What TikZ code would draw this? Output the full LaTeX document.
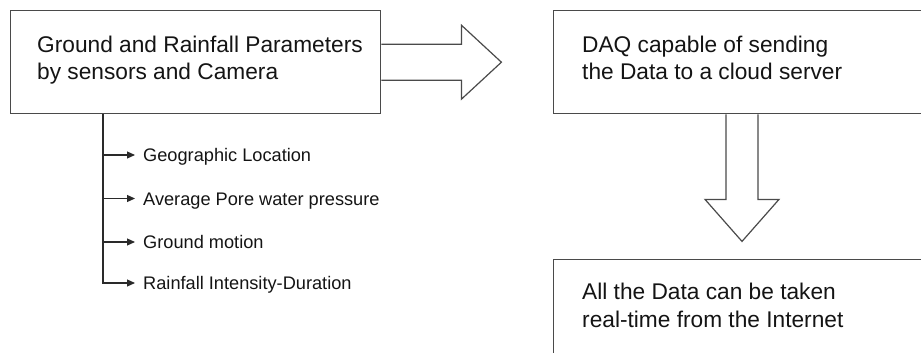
\documentclass[tikz,border=0pt]{standalone}
\usepackage{fontspec}
\setmainfont{Liberation Sans}
\usetikzlibrary{arrows.meta}
\definecolor{linegray}{HTML}{4A4A4A}
\definecolor{feedgray}{HTML}{2A2A2A}
\definecolor{inkblack}{HTML}{141414}
\begin{document}
\begin{tikzpicture}[x=1pt,y=-1pt,
  box/.style={draw=linegray, line width=1.4pt, rectangle, inner sep=0pt, anchor=north west},
  boxtext/.style={anchor=base west, inner sep=0pt, align=left, text=inkblack,
    font=\fontsize{22.7}{27.5}\selectfont},
  item/.style={anchor=west, inner xsep=8pt, inner ysep=0pt, text height=13pt, text depth=0pt,
    text=inkblack, font=\fontsize{18.2}{22}\selectfont},
  feed/.style={draw=feedgray, line width=1.1pt, -{Triangle[length=8pt,width=7pt]}},
  hollow/.style={draw=linegray, line width=1.2pt, line join=miter}
]
\useasboundingbox (0,0) rectangle (921,353);
\clip (0,0) rectangle (921,353);

% process boxes
\node[box, minimum width=370pt, minimum height=103pt] (box1) at (10,10) {};
\node[box, minimum width=420pt, minimum height=103pt] (box2) at (553,10) {};
\node[box, minimum width=420pt, minimum height=130pt] (box3) at (553,259) {};

% two-line texts, placed by the baseline of their last line
\node[boxtext] (t1) at (37,80) {Ground and Rainfall Parameters\\by sensors and Camera};
\node[boxtext] (t2) at (582,80) {DAQ capable of sending\\the Data to a cloud server};
\node[boxtext] (t3) at (582,327) {All the Data can be taken\\real-time from the Internet};

% hollow block arrow: box1 -> box2
\draw[hollow] (box1.east) ++(0,-18) -- ++(80,0) -- ++(0,-19) -- ++(40,37)
  -- ++(-40,37) -- ++(0,-19) -- ++(-80,0);

% hollow block arrow: box2 -> box3
\draw[hollow] (box2.south west) ++(173,0) -- ++(0,85) -- ++(-21,0) -- ++(37,42)
  -- ++(37,-42) -- ++(-21,0) -- ++(0,-85);

% measured parameters
\coordinate (trunk) at ([xshift=93pt]box1.south west);
\node[item] (geo)  at (135,155)   {Geographic Location};
\node[item] (pore) at (135,198.5) {Average Pore water pressure};
\node[item] (mot)  at (135,242)   {Ground motion};
\node[item] (rain) at (135,283)   {Rainfall Intensity-Duration};

\foreach \n in {geo,pore,mot,rain}
  \draw[feed] (trunk) |- (\n.west);
\end{tikzpicture}
\end{document}
